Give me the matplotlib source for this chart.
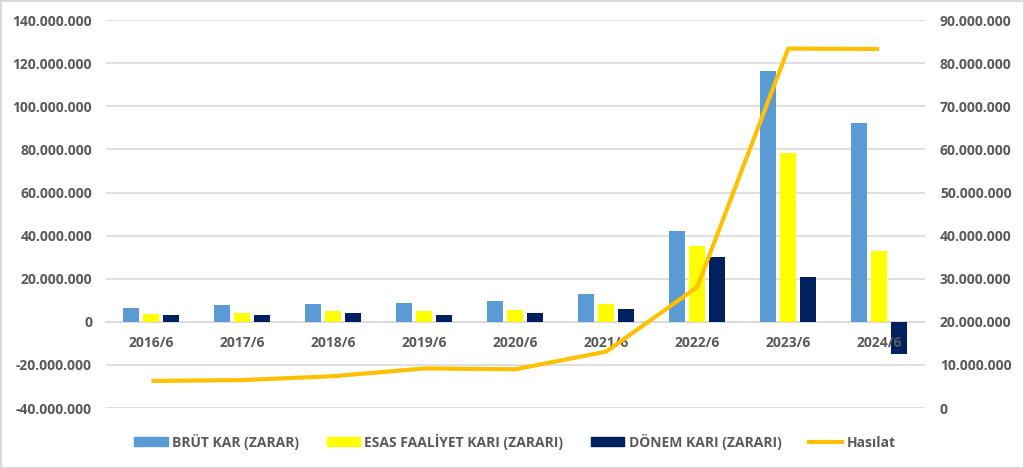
import matplotlib.pyplot as plt
import numpy as np
from matplotlib.patches import Patch
from matplotlib.lines import Line2D

plt.rcParams['font.family'] = ['Open Sans', 'DejaVu Sans']

donemler = ['2016/6', '2017/6', '2018/6', '2019/6', '2020/6', '2021/6', '2022/6', '2023/6', '2024/6']
brut_kar = [6.3e6, 7.7e6, 8.3e6, 8.8e6, 9.9e6, 13.0e6, 42.2e6, 116.4e6, 92.3e6]
esas_faaliyet = [3.7e6, 4.0e6, 5.0e6, 5.0e6, 5.4e6, 8.3e6, 35.2e6, 78.2e6, 32.9e6]
donem_kari = [3.1e6, 3.4e6, 4.2e6, 3.4e6, 4.0e6, 5.9e6, 30.1e6, 20.9e6, -14.8e6]
hasilat = [6.3e6, 6.5e6, 7.4e6, 9.2e6, 9.0e6, 13.1e6, 28.1e6, 83.4e6, 83.3e6]

renk_mavi = '#5B9BD5'
renk_sari = '#FFFF00'
renk_lacivert = '#002060'
renk_turuncu = '#FFC000'
yazi = '#595959'


def nokta(v, pos=None):
    return f"{int(round(v)):,}".replace(',', '.')


fig = plt.figure(figsize=(10.24, 4.68), dpi=100, edgecolor='#D9D9D9', linewidth=2)
ax = fig.add_axes([0.1035, 0.128, 0.7995, 0.829])
ax2 = ax.twinx()

x = np.arange(len(donemler))
w = 0.176
step = 0.22
ax.bar(x - step, brut_kar, w, color=renk_mavi, zorder=2)
ax.bar(x, esas_faaliyet, w, color=renk_sari, zorder=2)
ax.bar(x + step, donem_kari, w, color=renk_lacivert, zorder=2)

ax2.plot(x, hasilat, color=renk_turuncu, lw=3, solid_capstyle='butt', zorder=3)

ax.set_xlim(-0.5, len(donemler) - 0.5)
ax.set_ylim(-40e6, 140e6)
ax.set_yticks(np.arange(-40e6, 140e6 + 1, 20e6))
ax.yaxis.set_major_formatter(plt.FuncFormatter(nokta))
ax2.set_ylim(0, 90e6)
ax2.set_yticks(np.arange(0, 90e6 + 1, 10e6))
ax2.yaxis.set_major_formatter(plt.FuncFormatter(nokta))

ax.grid(axis='y', color='#D9D9D9', lw=1.2, zorder=0)
ax.set_axisbelow(True)
ax.xaxis.set_zorder(3)
for s in ['top', 'right', 'left']:
    ax.spines[s].set_visible(False)
for s in ['top', 'right', 'left', 'bottom']:
    ax2.spines[s].set_visible(False)
ax.spines['bottom'].set_position(('data', 0))
ax.spines['bottom'].set_color('#D9D9D9')
ax.spines['bottom'].set_linewidth(1.2)
ax.spines['bottom'].set_zorder(1)

ax.set_xticks(x)
ax.set_xticklabels(donemler)
ax.tick_params(axis='x', length=0, pad=10, labelsize=10, labelcolor=yazi)
ax.tick_params(axis='y', length=0, pad=10, labelsize=10, labelcolor=yazi)
ax2.tick_params(axis='y', length=0, pad=11, labelsize=10, labelcolor=yazi)
for lab in ax.get_xticklabels() + ax.get_yticklabels() + ax2.get_yticklabels():
    lab.set_fontweight('bold')

handles = [Patch(color=renk_mavi), Patch(color=renk_sari), Patch(color=renk_lacivert),
           Line2D([0], [0], color=renk_turuncu, lw=3)]
labels = ['BRÜT KAR (ZARAR)', 'ESAS FAALİYET KARI (ZARARI)', 'DÖNEM KARI (ZARARI)', 'Hasılat']
leg = fig.legend(handles, labels, loc='center', bbox_to_anchor=(0.503, 0.056), ncol=4,
                 frameon=False, handlelength=2.4, handleheight=0.6, handletextpad=0.3,
                 columnspacing=2.0, prop={'size': 10, 'weight': 'bold'})
for t in leg.get_texts():
    t.set_color(yazi)

fig.savefig('out.png', dpi=100)
